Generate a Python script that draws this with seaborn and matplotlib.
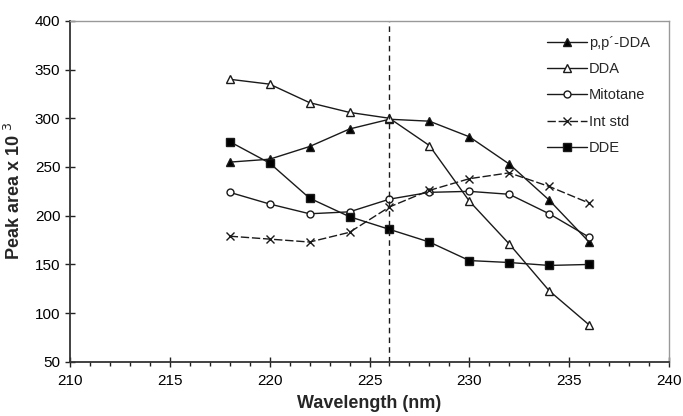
import numpy as np
import pandas as pd
import matplotlib.pyplot as plt
import seaborn as sns
from matplotlib.ticker import MultipleLocator

sns.set_style("ticks")
plt.rcParams["font.family"] = ["Liberation Sans", "DejaVu Sans"]

# data
wavelength = [218, 220, 222, 224, 226, 228, 230, 232, 234, 236]
ppdda = [255, 258, 271, 289, 299, 297, 281, 253, 216, 173]
dda = [340, 335, 316, 306, 300, 272, 215, 171, 123, 88]
mitotane = [224, 212, 202, 204, 217, 224, 225, 222, 202, 178]
int_std = [179, 176, 173, 183, 209, 226, 238, 244, 230, 213]
dde = [276, 254, 218, 199, 186, 173, 154, 152, 149, 150]
cut_wl = 226

series = [
    ("p,p\u00b4-DDA", ppdda, dict(marker="^", mfc="black", ms=6, ls="-")),
    ("DDA", dda, dict(marker="^", mfc="white", ms=6, ls="-")),
    ("Mitotane", mitotane, dict(marker="o", mfc="white", ms=5, ls="-")),
    ("Int std", int_std, dict(marker="x", mfc="none", ms=6, ls=(0, (6, 2)))),
    ("DDE", dde, dict(marker="s", mfc="black", ms=5.5, ls="-")),
]

fig = plt.figure(figsize=(6.83, 4.16), dpi=100)
ax = fig.add_axes([0.1025, 0.13, 0.877, 0.82])

for name, vals, st in series:
    df = pd.DataFrame({"wl": wavelength, "area": vals})
    sns.lineplot(data=df, x="wl", y="area", ax=ax, color="#1a1a1a", lw=1.0,
                 marker=st["marker"], markerfacecolor=st["mfc"],
                 markeredgecolor="#1a1a1a", markeredgewidth=1.0,
                 markersize=st["ms"], linestyle=st["ls"], label=name)

ax.axvline(cut_wl, color="#1a1a1a", lw=1.0, ls=(0, (4, 3)))

ax.set_xlim(210, 240)
ax.set_ylim(50, 400)
ax.xaxis.set_major_locator(MultipleLocator(5))
ax.xaxis.set_minor_locator(MultipleLocator(1))
ax.yaxis.set_major_locator(MultipleLocator(50))
ax.tick_params(axis="both", which="major", direction="inout", length=7,
               width=1, labelsize=11, colors="#222222", labelcolor="black")
ax.tick_params(axis="x", which="minor", direction="out", length=3, width=1,
               colors="#222222")
ax.tick_params(axis="x", pad=5)

for side in ["left", "bottom"]:
    ax.spines[side].set_color("#333333")
    ax.spines[side].set_linewidth(1.3)
for side in ["top", "right"]:
    ax.spines[side].set_visible(True)
    ax.spines[side].set_color("#999999")
    ax.spines[side].set_linewidth(1.0)

ax.set_xlabel("Wavelength (nm)", fontsize=13, fontweight="bold", labelpad=5)
ax.set_ylabel("Peak area x 10 $^{3}$", fontsize=13, fontweight="bold", labelpad=8)

ax.legend(loc="upper right", frameon=False, fontsize=10.5, numpoints=1,
          handlelength=2.7, handletextpad=0.15, labelspacing=0.85,
          bbox_to_anchor=(0.99, 0.995))

fig.savefig("out.png", dpi=100)
